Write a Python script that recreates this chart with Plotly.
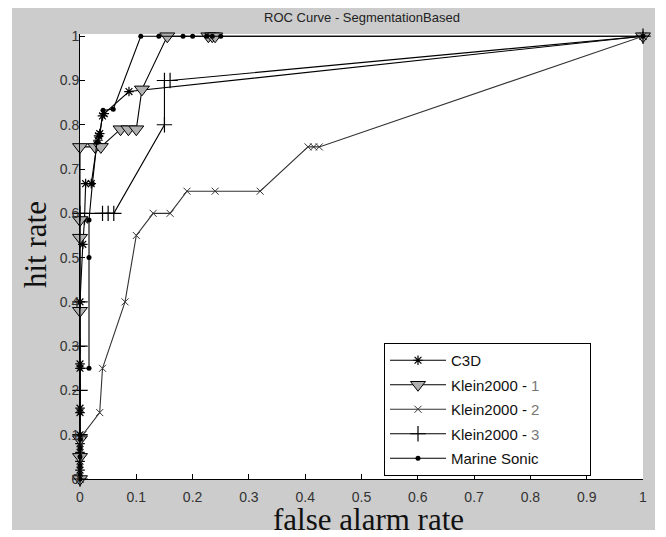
import plotly.graph_objects as go

# ---------------- data ----------------
c3d_x = [0, 0, 0, 0, 0, 0, 0, 0, 0, 0, 0, 0.005, 0.008, 0.01, 0.02, 0.03, 0.032, 0.033, 0.035, 0.04, 0.043, 0.087, 1]
c3d_y = [0, 0.02, 0.04, 0.06, 0.08, 0.1, 0.15, 0.16, 0.25, 0.26, 0.4, 0.53, 0.585, 0.667, 0.667, 0.755, 0.765, 0.775, 0.78, 0.82, 0.825, 0.875, 1]

k1_x = [0, 0, 0, 0, 0, 0, 0, 0.027, 0.037, 0.072, 0.086, 0.1, 0.11, 0.155, 0.228, 0.235, 0.24, 1]
k1_y = [0, 0.05, 0.09, 0.38, 0.545, 0.585, 0.75, 0.75, 0.75, 0.79, 0.79, 0.79, 0.88, 1, 1, 1, 1, 1]

k2_x = [0, 0.005, 0.035, 0.04, 0.08, 0.1, 0.13, 0.16, 0.19, 0.24, 0.32, 0.405, 0.415, 0.425, 1]
k2_y = [0, 0.1, 0.15, 0.25, 0.4, 0.55, 0.6, 0.6, 0.65, 0.65, 0.65, 0.75, 0.75, 0.75, 1]

k3_x = [0, 0, 0, 0, 0, 0, 0.04, 0.05, 0.06, 0.15, 0.15, 0.16, 1]
k3_y = [0, 0.1, 0.2, 0.3, 0.4, 0.6, 0.6, 0.6, 0.6, 0.8, 0.9, 0.9, 1]

ms_x = [0, 0, 0, 0, 0, 0, 0, 0, 0, 0.016, 0.016, 0.016, 0.022, 0.03, 0.035, 0.041, 0.059, 0.108, 0.14, 0.183, 0.2, 0.225, 0.235, 0.25, 1]
ms_y = [0, 0.01, 0.03, 0.05, 0.07, 0.09, 0.1, 0.15, 0.25, 0.25, 0.5, 0.585, 0.667, 0.76, 0.775, 0.833, 0.835, 1, 1, 1, 1, 1, 1, 1, 1]

names = ["C3D",
         "Klein2000 - <span style='color:#777777'>1</span>",
         "Klein2000 - <span style='color:#777777'>2</span>",
         "Klein2000 - <span style='color:#777777'>3</span>",
         "Marine Sonic" + "\u00a0" * 11]
tick_vals = [0, 0.1, 0.2, 0.3, 0.4, 0.5, 0.6, 0.7, 0.8, 0.9, 1]
tick_text = ["0", "0.1", "0.2", "0.3", "0.4", "0.5", "0.6", "0.7", "0.8", "0.9", "1"]

# ---------------- layout geometry (pixels, figure coords; page has 8px body margin) ----------------
W, H = 658, 529
L, R, T, B = 72, 23, 26, 58          # plot area 72..635 x 26..471
pw = W - L - R
ph = H - T - B
yr = [0, 1.005]

def px_x(p):
    return (p - L) / pw

def px_y(p):
    return (H - B - p) / ph

fig = go.Figure()

series = [
    (c3d_x, c3d_y, dict(symbol="asterisk-open", size=8, color="black", line=dict(width=1.2, color="black")), "#000000"),
    (k1_x, k1_y, dict(symbol="triangle-down", size=13, color="#b0b0b0", line=dict(width=1, color="black")), "#000000"),
    (k2_x, k2_y, dict(symbol="x-thin-open", size=7, color="#333333", line=dict(width=1, color="#333333")), "#333333"),
    (k3_x, k3_y, dict(symbol="cross-thin-open", size=11, color="black", line=dict(width=1.2, color="black")), "#000000"),
    (ms_x, ms_y, dict(symbol="circle", size=5, color="black", line=dict(width=0)), "#000000"),
]
for i, (xs, ys, mk, lc) in enumerate(series):
    fig.add_trace(go.Scatter(
        x=xs, y=ys, mode="lines+markers", name=names[i],
        line=dict(color=lc, width=1.1), marker=mk,
        cliponaxis=False, legendgroup=f"g{i}",
    ))

shapes = []
gx0, gx1 = px_x(4), px_x(647)
gy_top, gy_bot = px_y(0), px_y(522)
for (x0, x1, y0, y1) in [
    (gx0, gx1, px_y(T), gy_top),   # top band
    (gx0, gx1, gy_bot, 0),         # bottom band
    (gx0, 0, 0, px_y(T)),          # left band
    (1, gx1, 0, px_y(T)),          # right band
]:
    shapes.append(dict(type="rect", xref="paper", yref="paper", x0=x0, x1=x1, y0=y0, y1=y1,
                       fillcolor="#cccccc", line=dict(width=0), layer="below"))

fig.update_layout(
    width=W, height=H,
    margin=dict(l=L, r=R, t=T, b=B, pad=0),
    paper_bgcolor="white", plot_bgcolor="white",
    shapes=shapes,
    title=dict(text="ROC Curve - SegmentationBased", x=px_x(354), xref="paper", xanchor="center",
               y=1 - 9 / H, yanchor="middle",
               font=dict(family="Liberation Sans, Arial", size=13, color="#222222")),
    font=dict(family="Liberation Sans, Arial", size=13, color="#222222"),
    showlegend=True,
    legend=dict(x=px_x(376), y=px_y(335), xanchor="left", yanchor="top",
                bgcolor="white", bordercolor="black", borderwidth=1,
                font=dict(family="Liberation Sans, Arial", size=15, color="#111111"),
                tracegroupgap=2, itemwidth=56),
    xaxis=dict(range=[0, 1], tickvals=tick_vals, ticktext=tick_text, ticks="inside", ticklen=5,
               tickcolor="black", showline=True, linecolor="black", linewidth=1, showgrid=False,
               zeroline=False, tickfont=dict(size=14, color="#333333"), mirror=False,
               ticklabelstandoff=5),
    yaxis=dict(range=yr, tickvals=tick_vals, ticktext=tick_text, ticks="inside", ticklen=5,
               tickcolor="black", showline=True, linecolor="black", linewidth=1, showgrid=False,
               zeroline=False, tickfont=dict(size=14, color="#333333"), mirror=False,
               ticklabelstandoff=-3),
    annotations=[
        dict(text="hit rate", xref="paper", yref="paper", x=px_x(27), y=px_y(237), textangle=-90,
             showarrow=False, xanchor="center", yanchor="middle",
             font=dict(family="Liberation Serif, Times New Roman", size=31, color="#111111")),
        dict(text="false alarm rate", xref="paper", yref="paper", x=px_x(360), y=px_y(511),
             showarrow=False, xanchor="center", yanchor="middle",
             font=dict(family="Liberation Serif, Times New Roman", size=31, color="#111111")),
    ],
)

fig.write_html("out.html")
